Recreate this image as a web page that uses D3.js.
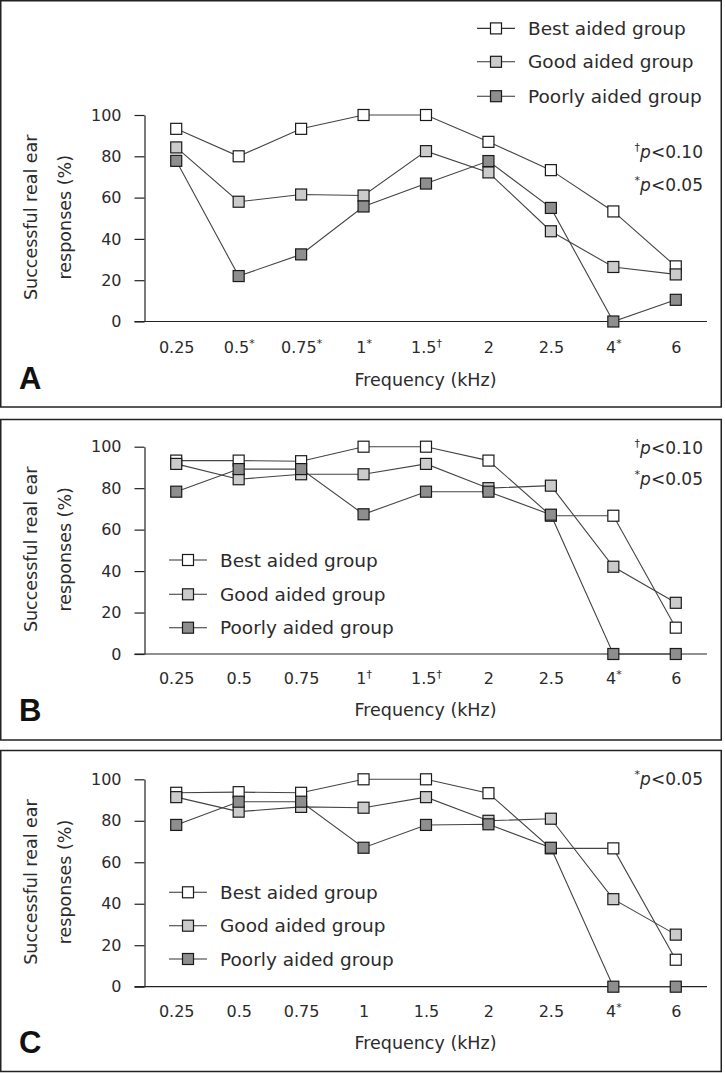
<!DOCTYPE html>
<html><head><meta charset="utf-8">
<script src="https://cdn.jsdelivr.net/npm/d3@7"></script>
<style>
body{margin:0;background:#fff}
svg{display:block}
text{font-family:"DejaVu Sans",sans-serif;fill:#2b2b2b}
</style>
</head><body>
<svg id="chart" width="725" height="1073"></svg>
<script>
// ---- data ----
const categories = ["0.25","0.5","0.75","1","1.5","2","2.5","4","6"];
const tickMarksA = ["", "*", "*", "*", "\u2020", "", "", "*", ""];
const tickMarksB = ["", "", "", "\u2020", "\u2020", "", "", "*", ""];
const tickMarksC = ["", "", "", "", "", "", "", "*", ""];
const yTicks = [0, 20, 40, 60, 80, 100];
const seriesNames = ["Best aided group", "Good aided group", "Poorly aided group"];

const bestA = [93.3, 80, 93.3, 100, 100, 87, 73.3, 53.3, 26.7];
const goodA = [84.3, 58, 61.5, 61, 82.5, 72.2, 43.7, 26.4, 22.8];
const poorA = [77.8, 22, 32.5, 55.7, 66.8, 77.7, 55, 0, 10.5];

const bestB = [93.3, 93.3, 93, 100, 100, 93.3, 66.7, 66.7, 12.7];
const goodB = [91.7, 84.3, 86.7, 86.7, 91.7, 80, 81.2, 42.1, 24.7];
const poorB = [78.3, 89.2, 89.2, 67.4, 78.3, 78.3, 67.2, 0, 0];

const bestC = [93.5, 93.8, 93.5, 100, 100, 93.3, 66.7, 66.7, 13];
const goodC = [91.4, 84.4, 86.7, 86.3, 91.4, 80, 81, 42.2, 25.1];
const poorC = [78, 89.2, 89.2, 67, 78, 78.3, 67, 0, 0];

const pNotesA = [["\u2020", "<0.10"], ["*", "<0.05"]];
const pNotesB = [["\u2020", "<0.10"], ["*", "<0.05"]];
const pNotesC = [["*", "<0.05"]];

// ---- styles ----
const fills = ["#ffffff", "#cbcbcb", "#8e8e8e"];
const svg = d3.select("#chart");

function drawPanel(cfg) {
  const g = svg.append("g");
  g.append("rect").attr("x", 0.75).attr("y", cfg.top).attr("width", 720.5)
    .attr("height", cfg.bottom - cfg.top).attr("fill", "none")
    .attr("stroke", "#222").attr("stroke-width", 1.5);

  const x = d3.scalePoint().domain(categories).range([145, 707]).padding(0.5);
  const y = d3.scaleLinear().domain([0, 100]).range([cfg.y0, cfg.y100]);

  // y axis
  const ya = g.append("g").attr("transform", "translate(144.5,0)")
    .call(d3.axisLeft(y).tickValues(yTicks).tickSize(10).tickPadding(13).tickSizeOuter(0));
  ya.select(".domain").attr("stroke", "#222").attr("stroke-width", 1.2);
  ya.selectAll(".tick line").attr("stroke", "#222").attr("stroke-width", 1.2);
  ya.selectAll(".tick text").style("font-size", "16px").attr("fill", "#2b2b2b");

  // x axis
  const xa = g.append("g").attr("transform", `translate(0,${cfg.y0})`)
    .call(d3.axisBottom(x).tickSize(0).tickSizeOuter(0));
  xa.select(".domain").remove();
  g.append("line").attr("x1", 134.5).attr("x2", 707).attr("y1", cfg.y0).attr("y2", cfg.y0)
    .attr("stroke", "#222").attr("stroke-width", 1.2);
  xa.selectAll(".tick text").each(function(d, i) {
    const t = d3.select(this);
    t.text(null).attr("y", cfg.tickBase - cfg.y0).attr("dy", null)
      .style("font-size", "16px").attr("fill", "#2b2b2b");
    t.append("tspan").text(d);
    const m = cfg.marks[i];
    if (m) {
      t.append("tspan").text(m).style("font-size", "11px").attr("dy", -6);
    }
  });

  // axis titles
  g.append("text").attr("x", 425.5).attr("y", cfg.freqBase).attr("text-anchor", "middle")
    .style("font-size", "17.5px").text("Frequency (kHz)");
  const cy = (cfg.y0 + cfg.y100) / 2 - 1;
  g.append("text").attr("transform", `translate(36.5,${cy}) rotate(-90)`)
    .attr("text-anchor", "middle").style("font-size", "17.5px").text("Successful real ear");
  g.append("text").attr("transform", `translate(70.5,${cy}) rotate(-90)`)
    .attr("text-anchor", "middle").style("font-size", "17.5px").text("responses (%)");

  // panel letter
  g.append("text").attr("x", 19).attr("y", cfg.letterBase)
    .style("font-family", "'Liberation Sans', Arial, sans-serif").style("font-weight", "bold")
    .style("font-size", "31px").style("fill", "#111").text(cfg.letter);

  // series
  const line = d3.line().x((d, i) => x(categories[i])).y(d => y(d));
  cfg.series.forEach((vals, s) => {
    g.append("path").datum(vals).attr("d", line).attr("fill", "none")
      .attr("stroke", "#444").attr("stroke-width", 1.1);
  });
  cfg.series.forEach((vals, s) => {
    g.selectAll(null).data(vals).enter().append("rect")
      .attr("x", (d, i) => x(categories[i]) - 5.5).attr("y", d => y(d) - 5.5)
      .attr("width", 11).attr("height", 11)
      .attr("fill", fills[s]).attr("stroke", "#1a1a1a").attr("stroke-width", 1.2);
  });

  // legend
  seriesNames.forEach((name, s) => {
    const ly = cfg.legend.rows[s];
    g.append("line").attr("x1", cfg.legend.x0).attr("x2", cfg.legend.x1)
      .attr("y1", ly).attr("y2", ly).attr("stroke", "#333").attr("stroke-width", 1.1);
    const cx = (cfg.legend.x0 + cfg.legend.x1) / 2;
    g.append("rect").attr("x", cx - 5.5).attr("y", ly - 5.5).attr("width", 11).attr("height", 11)
      .attr("fill", fills[s]).attr("stroke", "#1a1a1a").attr("stroke-width", 1.2);
    g.append("text").attr("x", cfg.legend.tx).attr("y", ly).attr("dy", "0.36em")
      .style("font-size", "18.5px").text(name);
  });

  // p-value notes
  cfg.notes.forEach((n, k) => {
    const t = g.append("text").attr("x", 703).attr("y", cfg.noteBase[k])
      .attr("text-anchor", "end").style("font-size", "17px");
    t.append("tspan").text(n[0]).style("font-size", "11px").attr("dy", -7);
    t.append("tspan").text("p").style("font-style", "italic").attr("dy", 7);
    t.append("tspan").text(n[1]);
  });
}

drawPanel({
  letter: "A", top: 0.75, bottom: 407, y0: 321.5, y100: 115,
  tickBase: 353, freqBase: 386, letterBase: 389,
  marks: tickMarksA, series: [bestA, goodA, poorA],
  legend: { x0: 477, x1: 515, tx: 528, rows: [28.4, 61.8, 96.2] },
  notes: pNotesA, noteBase: [157.5, 190.5]
});
drawPanel({
  letter: "B", top: 419.5, bottom: 740, y0: 654, y100: 446.7,
  tickBase: 684, freqBase: 716, letterBase: 721,
  marks: tickMarksB, series: [bestB, goodB, poorB],
  legend: { x0: 169, x1: 207, tx: 220, rows: [560, 594.3, 627.7] },
  notes: pNotesB, noteBase: [453.5, 484.5]
});
drawPanel({
  letter: "C", top: 750.5, bottom: 1071.5, y0: 986.7, y100: 779.3,
  tickBase: 1017, freqBase: 1049, letterBase: 1053,
  marks: tickMarksC, series: [bestC, goodC, poorC],
  legend: { x0: 169, x1: 207, tx: 220, rows: [892.3, 925.7, 959] },
  notes: pNotesC, noteBase: [785]
});
</script>
</body></html>
